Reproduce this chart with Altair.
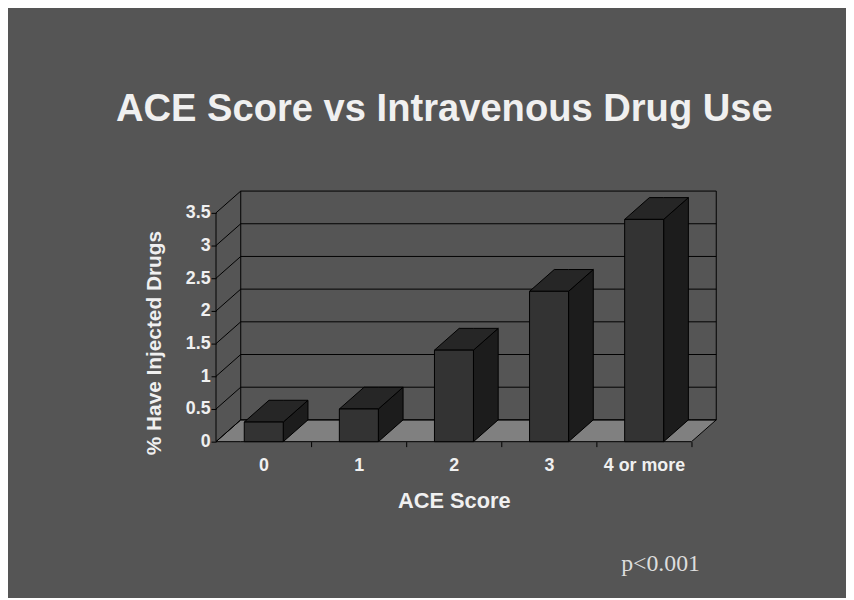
import json
import altair as alt
import pandas as pd

# ---------------- data ----------------
CATEGORIES = ["0", "1", "2", "3", "4 or more"]
VALUES = [0.3, 0.5, 1.4, 2.3, 3.4]
Y_TICKS = [0, 0.5, 1, 1.5, 2, 2.5, 3, 3.5]
TITLE = "ACE Score vs Intravenous Drug Use"
X_TITLE = "ACE Score"
Y_TITLE = "% Have Injected Drugs"
NOTE = "p<0.001"

# ---------------- 3-D styling constants ----------------
DX = 0.26      # depth shift, in category units
DY = 0.3333    # depth shift, in value units
BAR_OFF = 0.297
BAR_W = 0.41
N = len(CATEGORIES)
YMAX = Y_TICKS[-1]

BG = "#555555"
FLOOR = "#808080"
FRONT = "#333333"
TOP = "#262626"
SIDE = "#1c1c1c"
TXT = "#f0f0f0"
FONT = "Liberation Sans"

xs = alt.Scale(domain=[0, N + DX], nice=False, zero=False)
ys = alt.Scale(domain=[0, YMAX + DY], nice=False, zero=False)

# ---------------- geometry tables ----------------
floor = pd.DataFrame({"x": [0, DX, N, N + DX],
                      "y": [0, 0, 0, DY],
                      "y2": [0, DY, DY, DY]})

grid_rows = []
for g in Y_TICKS:
    grid_rows.append({"x": DX, "x2": N + DX, "y": g + DY, "y2": g + DY})
    grid_rows.append({"x": 0, "x2": DX, "y": g, "y2": g + DY})
grid_rows.append({"x": DX, "x2": DX, "y": DY, "y2": YMAX + DY})
grid_rows.append({"x": N + DX, "x2": N + DX, "y": DY, "y2": YMAX + DY})
grid_rows.append({"x": 0, "x2": 0, "y": 0, "y2": YMAX})
grid = pd.DataFrame(grid_rows)

front_rows, top_rows, side_rows = [], [], []
for i, (c, v) in enumerate(zip(CATEGORIES, VALUES)):
    x0 = i + BAR_OFF
    x1 = x0 + BAR_W
    front_rows.append({"cat": c, "x": x0, "x2": x1, "y": 0, "y2": v})
    top_rows += [
        {"cat": c, "x": x0, "y": v, "y2": v},
        {"cat": c, "x": x0 + DX, "y": v, "y2": v + DY},
        {"cat": c, "x": x1, "y": v, "y2": v + DY},
        {"cat": c, "x": x1 + DX, "y": v + DY, "y2": v + DY},
    ]
    side_rows += [
        {"cat": c, "x": x1, "y": 0, "y2": v},
        {"cat": c, "x": x1 + DX, "y": DY, "y2": v + DY},
    ]
front = pd.DataFrame(front_rows)
top = pd.DataFrame(top_rows)
side = pd.DataFrame(side_rows)

# ---------------- axes ----------------
x_vals = [k / 2 for k in range(1, 2 * N + 1)]
x_label_expr = ("datum.value % 1 == 0 ? '' : "
                + json.dumps(CATEGORIES) + "[floor(datum.value)]")

x_axis = alt.Axis(
    values=x_vals, labelExpr=x_label_expr, title=X_TITLE,
    domain=False, grid=False,
    ticks=True, tickSize=5, tickColor="black", tickWidth=1,
    tickOpacity={"condition": {"test": "datum.value % 1 != 0", "value": 0}, "value": 1},
    labelFont=FONT, labelFontSize=18, labelFontWeight="bold", labelColor=TXT,
    labelBaseline="alphabetic", labelPadding=24, labelOverlap=False, labelFlush=False,
    titleFont=FONT, titleFontSize=22, titleFontWeight="bold", titleColor=TXT,
    titleX=240, titleY=66, titleBaseline="alphabetic", titleAlign="center",
)
y_axis = alt.Axis(
    values=Y_TICKS, format="~g", title=Y_TITLE,
    domain=False, grid=False,
    ticks=True, tickSize=5, tickColor="black", tickWidth=1,
    labelFont=FONT, labelFontSize=18, labelFontWeight="bold", labelColor=TXT,
    labelPadding=1, labelFlush=False,
    titleFont=FONT, titleFontSize=21, titleFontWeight="bold", titleColor=TXT,
    titleX=-56, titleY=153, titleBaseline="alphabetic", titleAlign="center", titleAngle=270,
)


def X(field="x"):
    return alt.X(f"{field}:Q", scale=xs, axis=x_axis)


def Y(field="y"):
    return alt.Y(f"{field}:Q", scale=ys, axis=y_axis, stack=None)


floor_l = alt.Chart(floor).mark_area(
    orient="vertical", interpolate="linear", fill=FLOOR, stroke="black", strokeWidth=1
).encode(x=X(), y=Y(), y2="y2:Q")

grid_l = alt.Chart(grid).mark_rule(color="black", strokeWidth=1).encode(
    x=X(), x2="x2:Q", y=Y(), y2="y2:Q",
)

side_l = alt.Chart(side).mark_area(
    orient="vertical", interpolate="linear", fill=SIDE, stroke="black", strokeWidth=1
).encode(x=X(), y=Y(), y2="y2:Q", detail="cat:N")

top_l = alt.Chart(top).mark_area(
    orient="vertical", interpolate="linear", fill=TOP, stroke="black", strokeWidth=1
).encode(x=X(), y=Y(), y2="y2:Q", detail="cat:N")

front_l = alt.Chart(front).mark_rect(fill=FRONT, stroke="black", strokeWidth=1).encode(
    x=X(), x2="x2:Q", y=Y(), y2="y2:Q",
)

note_l = alt.Chart(pd.DataFrame({"t": [NOTE]})).mark_text(
    font="Liberation Serif", fontSize=24, color="#dddddd",
    align="left", baseline="alphabetic"
).encode(text="t:N", x=alt.value(409), y=alt.value(384))

chart = alt.layer(floor_l, grid_l, side_l, top_l, front_l, note_l).properties(
    width=505, height=253,
    autosize=alt.AutoSizeParams(type="none"),
    padding={"left": 210, "top": 182, "right": 131, "bottom": 155},
    background=BG,
    title=alt.TitleParams(
        text=TITLE, font=FONT, fontSize=38.5, fontWeight="bold", color=TXT,
        anchor="middle", frame="group", baseline="alphabetic", offset=32, dx=-22,
    ),
).configure_view(strokeWidth=0)

chart.save("out.html", embed_options={"renderer": "svg", "actions": False})
